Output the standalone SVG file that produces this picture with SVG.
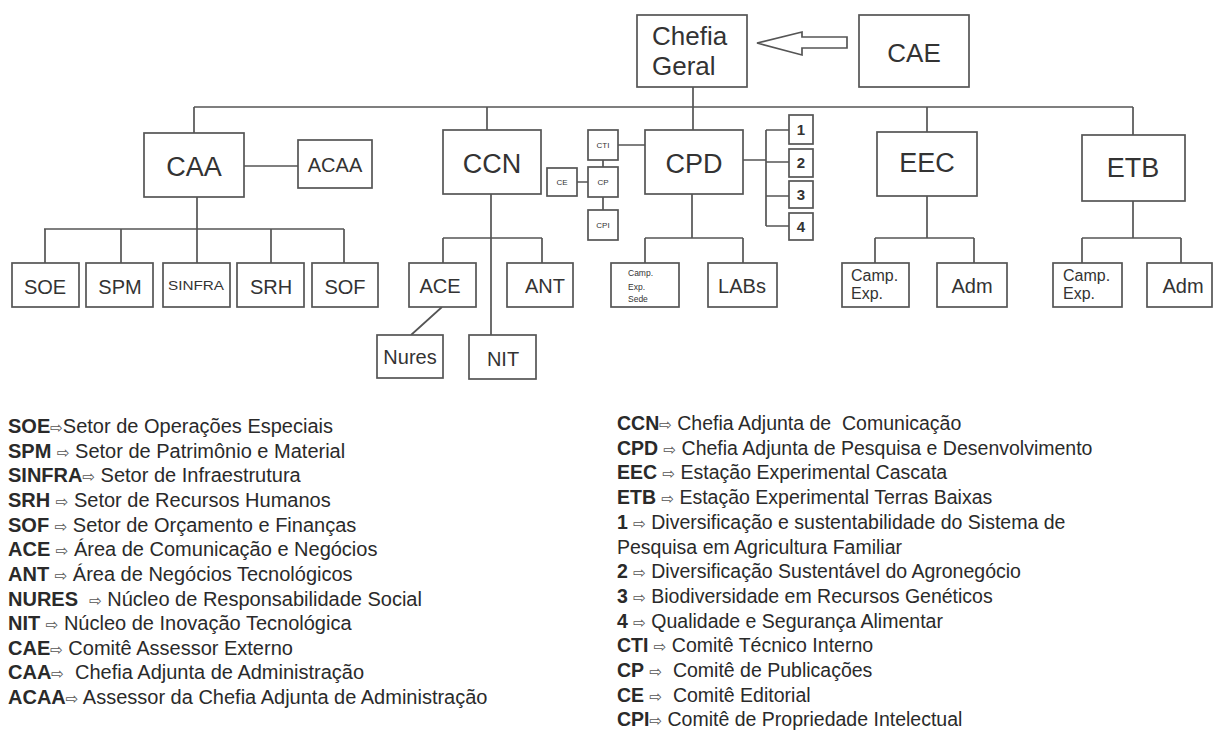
<svg xmlns="http://www.w3.org/2000/svg" width="1213" height="731" viewBox="0 0 1213 731">
<style>
.box{fill:#fff;stroke:#555;stroke-width:1.7}
.ln{fill:none;stroke:#555;stroke-width:1.7}
.t{font-family:"Liberation Sans",Arial,sans-serif;fill:#333;text-anchor:middle}
.s{font-family:"Liberation Sans",Arial,sans-serif;fill:#333}
.lg{font-family:"Liberation Sans",Arial,sans-serif;fill:#2a2a2a;font-size:19.5px}
.lgl{font-size:20px}
.b{font-weight:bold}
.ar{font-family:"DejaVu Sans",sans-serif;font-size:15px;fill:#555}
</style>
<rect width="1213" height="731" fill="#fff"/>
<g id="connectors">
<path class="ln" d="M693,87V130M194,107H1133M194,107V133M487,107V130M927,107V132M1133,107V135"/>
<path class="ln" d="M244,166H298M197,197V229M44,229H344M45,229V263M121,229V263M197,229V263M271,229V263M344,229V263"/>
<path class="ln" d="M491,194V335M443,238H542M443,238V263M542,238V263M442,307L411,335"/>
<path class="ln" d="M692,194V238M645,238H743M645,238V263M743,238V263"/>
<path class="ln" d="M618,145H645M603,160V167M577,182H588M603,197V210"/>
<path class="ln" d="M743,160H766M766,130V226M766,130H789M766,162H789M766,196H789M766,226H789"/>
<path class="ln" d="M927,196V238M875,238H974M875,238V263M974,238V263"/>
<path class="ln" d="M1133,201V238M1082,238H1181M1082,238V263M1181,238V263"/>
<polygon class="box" points="757,43 802,32 802,37 847,37 847,48 802,48 802,55"/>
</g>
<g id="chefia"><rect class="box" x="637" y="15" width="110" height="72"/><text class="s" x="652" y="45" font-size="26">Chefia</text><text class="s" x="652" y="75" font-size="26">Geral</text></g>
<g id="cae"><rect class="box" x="859" y="15" width="110" height="72"/><text class="t" x="914" y="62" font-size="26">CAE</text></g>
<g id="caa"><rect class="box" x="144" y="133" width="100" height="64"/><text class="t" x="194" y="176" font-size="27">CAA</text></g>
<g id="acaa"><rect class="box" x="298" y="140" width="74" height="48"/><text class="t" x="335" y="172" font-size="20">ACAA</text></g>
<g id="ccn"><rect class="box" x="443" y="130" width="98" height="64"/><text class="t" x="492" y="173" font-size="27">CCN</text></g>
<g id="cpd"><rect class="box" x="645" y="130" width="98" height="64"/><text class="t" x="694" y="173" font-size="27">CPD</text></g>
<g id="eec"><rect class="box" x="877" y="132" width="100" height="64"/><text class="t" x="927" y="172" font-size="27">EEC</text></g>
<g id="etb"><rect class="box" x="1082" y="135" width="103" height="66"/><text class="t" x="1133" y="177" font-size="27">ETB</text></g>
<g id="cti"><rect class="box" x="588" y="130" width="30" height="30"/><text class="t" x="603" y="148" font-size="8">CTI</text></g>
<g id="cp"><rect class="box" x="588" y="167" width="30" height="30"/><text class="t" x="603" y="185" font-size="8">CP</text></g>
<g id="ce"><rect class="box" x="547" y="168" width="30" height="28"/><text class="t" x="562" y="185" font-size="8">CE</text></g>
<g id="cpi"><rect class="box" x="588" y="210" width="30" height="30"/><text class="t" x="603" y="228" font-size="8">CPI</text></g>
<g id="n1"><rect class="box" x="789" y="115" width="24" height="29"/><text class="t b" x="801" y="135" font-size="15">1</text></g>
<g id="n2"><rect class="box" x="789" y="149" width="24" height="28"/><text class="t b" x="801" y="168" font-size="15">2</text></g>
<g id="n3"><rect class="box" x="789" y="181" width="24" height="27"/><text class="t b" x="801" y="200" font-size="15">3</text></g>
<g id="n4"><rect class="box" x="789" y="213" width="24" height="27"/><text class="t b" x="801" y="232" font-size="15">4</text></g>
<g id="soe"><rect class="box" x="12" y="263" width="67" height="44"/><text class="t" x="45" y="294" font-size="20">SOE</text></g>
<g id="spm"><rect class="box" x="86" y="263" width="67" height="44"/><text class="t" x="120" y="294" font-size="20">SPM</text></g>
<g id="sinfra"><rect class="box" x="163" y="263" width="67" height="44"/><text class="t" x="196" y="290" font-size="13" textLength="56" lengthAdjust="spacingAndGlyphs">SINFRA</text></g>
<g id="srh"><rect class="box" x="237" y="263" width="67" height="44"/><text class="t" x="271" y="294" font-size="20">SRH</text></g>
<g id="sof"><rect class="box" x="312" y="263" width="66" height="44"/><text class="t" x="345" y="294" font-size="20">SOF</text></g>
<g id="ace"><rect class="box" x="409" y="263" width="67" height="44"/><text class="t" x="440" y="293" font-size="20">ACE</text></g>
<g id="ant"><rect class="box" x="507" y="263" width="66" height="44"/><text class="t" x="545" y="293" font-size="20">ANT</text></g>
<g id="nures"><rect class="box" x="377" y="335" width="66" height="43"/><text class="t" x="410" y="364" font-size="20">Nures</text></g>
<g id="nit"><rect class="box" x="469" y="335" width="67" height="44"/><text class="t" x="503" y="366" font-size="20">NIT</text></g>
<g id="campsede"><rect class="box" x="611" y="263" width="68" height="44"/><text class="s" font-size="8.5"><tspan x="628" y="276">Camp.</tspan><tspan x="628" y="290">Exp.</tspan><tspan x="628" y="302">Sede</tspan></text></g>
<g id="labs"><rect class="box" x="708" y="263" width="69" height="44"/><text class="t" x="742" y="293" font-size="20">LABs</text></g>
<g id="eeccamp"><rect class="box" x="842" y="263" width="67" height="44"/><text class="s" font-size="16"><tspan x="851" y="281">Camp.</tspan><tspan x="851" y="299">Exp.</tspan></text></g>
<g id="eecadm"><rect class="box" x="937" y="263" width="70" height="44"/><text class="t" x="972" y="293" font-size="20">Adm</text></g>
<g id="etbcamp"><rect class="box" x="1053" y="263" width="69" height="44"/><text class="s" font-size="16"><tspan x="1063" y="281">Camp.</tspan><tspan x="1063" y="299">Exp.</tspan></text></g>
<g id="etbadm"><rect class="box" x="1147" y="263" width="65" height="44"/><text class="t" x="1183" y="293" font-size="20">Adm</text></g>
<g id="legend-left">
<text class="lg lgl" x="8" y="433"><tspan class="b">SOE</tspan><tspan class="ar">⇨</tspan>Setor de Operações Especiais</text>
<text class="lg lgl" x="8" y="457.6"><tspan class="b">SPM</tspan> <tspan class="ar">⇨</tspan> Setor de Patrimônio e Material</text>
<text class="lg lgl" x="8" y="482.3"><tspan class="b">SINFRA</tspan><tspan class="ar">⇨</tspan> Setor de Infraestrutura</text>
<text class="lg lgl" x="8" y="506.9"><tspan class="b">SRH</tspan> <tspan class="ar">⇨</tspan> Setor de Recursos Humanos</text>
<text class="lg lgl" x="8" y="531.6"><tspan class="b">SOF</tspan> <tspan class="ar">⇨</tspan> Setor de Orçamento e Finanças</text>
<text class="lg lgl" x="8" y="556.2"><tspan class="b">ACE</tspan> <tspan class="ar">⇨</tspan> Área de Comunicação e Negócios</text>
<text class="lg lgl" x="8" y="580.8"><tspan class="b">ANT</tspan> <tspan class="ar">⇨</tspan> Área de Negócios Tecnológicos</text>
<text class="lg lgl" x="8" y="605.5"><tspan class="b">NURES</tspan>&#160; <tspan class="ar">⇨</tspan> Núcleo de Responsabilidade Social</text>
<text class="lg lgl" x="8" y="630.1"><tspan class="b">NIT</tspan> <tspan class="ar">⇨</tspan> Núcleo de Inovação Tecnológica</text>
<text class="lg lgl" x="8" y="654.8"><tspan class="b">CAE</tspan><tspan class="ar">⇨</tspan> Comitê Assessor Externo</text>
<text class="lg lgl" x="8" y="679.4"><tspan class="b">CAA</tspan><tspan class="ar">⇨</tspan>&#160; Chefia Adjunta de Administração</text>
<text class="lg lgl" x="8" y="704"><tspan class="b">ACAA</tspan><tspan class="ar">⇨</tspan> Assessor da Chefia Adjunta de Administração</text>
</g>
<g id="legend-right">
<text class="lg" x="617" y="430"><tspan class="b">CCN</tspan><tspan class="ar">⇨</tspan> Chefia Adjunta de&#160; Comunicação</text>
<text class="lg" x="617" y="454.7"><tspan class="b">CPD</tspan> <tspan class="ar">⇨</tspan> Chefia Adjunta de Pesquisa e Desenvolvimento</text>
<text class="lg" x="617" y="479.4"><tspan class="b">EEC</tspan> <tspan class="ar">⇨</tspan> Estação Experimental Cascata</text>
<text class="lg" x="617" y="504"><tspan class="b">ETB</tspan> <tspan class="ar">⇨</tspan> Estação Experimental Terras Baixas</text>
<text class="lg" x="617" y="528.8"><tspan class="b">1</tspan> <tspan class="ar">⇨</tspan> Diversificação e sustentabilidade do Sistema de</text>
<text class="lg" x="617" y="553.5">Pesquisa em Agricultura Familiar</text>
<text class="lg" x="617" y="578.2"><tspan class="b">2</tspan> <tspan class="ar">⇨</tspan> Diversificação Sustentável do Agronegócio</text>
<text class="lg" x="617" y="602.9"><tspan class="b">3</tspan> <tspan class="ar">⇨</tspan> Biodiversidade em Recursos Genéticos</text>
<text class="lg" x="617" y="627.6"><tspan class="b">4</tspan> <tspan class="ar">⇨</tspan> Qualidade e Segurança Alimentar</text>
<text class="lg" x="617" y="652.3"><tspan class="b">CTI</tspan> <tspan class="ar">⇨</tspan> Comitê Técnico Interno</text>
<text class="lg" x="617" y="677"><tspan class="b">CP</tspan> <tspan class="ar">⇨</tspan>&#160; Comitê de Publicações</text>
<text class="lg" x="617" y="701.7"><tspan class="b">CE</tspan> <tspan class="ar">⇨</tspan>&#160; Comitê Editorial</text>
<text class="lg" x="617" y="726.4"><tspan class="b">CPI</tspan><tspan class="ar">⇨</tspan> Comitê de Propriedade Intelectual</text>
</g>
</svg>
